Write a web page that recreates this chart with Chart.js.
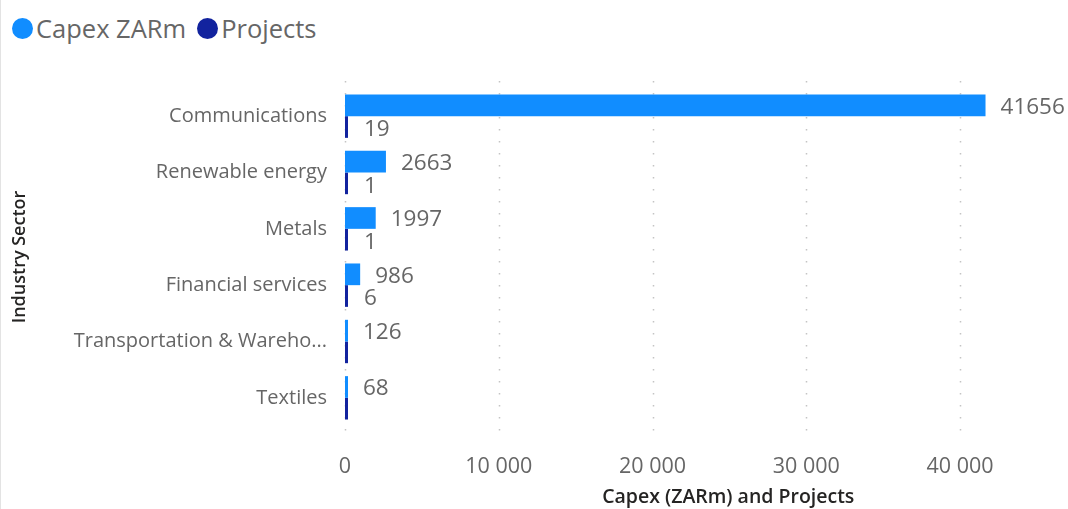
<!DOCTYPE html>
<html>
<head>
<meta charset="utf-8">
<script src="https://cdn.jsdelivr.net/npm/chart.js@4.4.1/dist/chart.umd.min.js"></script>
<style>
  html, body { margin: 0; padding: 0; background: #fff; }
  body { width: 1068px; height: 509px; position: relative; overflow: hidden; border-left: 1px solid #e3e3e3; box-sizing: border-box; }
  #legend { position: absolute; left: 11px; top: 11px; display: flex; align-items: center; font-family: "Segoe UI", "Open Sans", sans-serif; font-size: 25.5px; color: #666; }
  #legend .item { display: flex; align-items: center; margin-right: 11px; }
  #legend .dot { width: 21px; height: 21px; border-radius: 50%; margin-right: 3px; }
  #wrap { position: absolute; left: 0; top: 0; width: 1067px; height: 509px; }
</style>
</head>
<body>
<div id="legend"></div>
<div id="wrap"><canvas id="c"></canvas></div>
<script>
// data
const sectors = ['Communications', 'Renewable energy', 'Metals', 'Financial services', 'Transportation & Wareho...', 'Textiles'];
const capex = [41656, 2663, 1997, 986, 126, 68];
const projects = [19, 1, 1, 6, 1, 1];
const xTicks = [0, 10000, 20000, 30000, 40000];

const seriesNames = ['Capex ZARm', 'Projects'];
const seriesColors = ['#118DFF', '#12239E'];
const labelFont = '22.5px "Segoe UI", "Open Sans", sans-serif';
const xTitle = 'Capex (ZARm) and Projects';

function fmt(v) {
  return String(v).replace(/\B(?=(\d{3})+(?!\d))/g, ' ');
}

// html legend
const legend = document.getElementById('legend');
seriesNames.forEach((n, i) => {
  const it = document.createElement('div');
  it.className = 'item';
  it.innerHTML = '<span class="dot" style="background:' + seriesColors[i] + '"></span><span>' + n + '</span>';
  legend.appendChild(it);
});

// dotted vertical gridlines, a little taller than the plot area like Power BI
const dottedGrid = {
  id: 'dottedGrid',
  beforeDatasetsDraw(chart) {
    const ctx = chart.ctx, xs = chart.scales.x, area = chart.chartArea;
    ctx.save();
    ctx.strokeStyle = '#c4c4c4';
    ctx.lineWidth = 1.5;
    ctx.setLineDash([1.5, 10.5]);
    xTicks.forEach(v => {
      const x = Math.round(xs.getPixelForValue(v)) + 0.5;
      ctx.beginPath();
      ctx.moveTo(x, area.top - 7);
      ctx.lineTo(x, area.bottom + 15);
      ctx.stroke();
    });
    ctx.restore();
  }
};

// value labels, projects label dropped when it collides with the capex one
const valueLabels = {
  id: 'valueLabels',
  afterDatasetsDraw(chart) {
    const ctx = chart.ctx;
    ctx.save();
    ctx.font = labelFont;
    ctx.fillStyle = '#666';
    ctx.textAlign = 'left';
    ctx.textBaseline = 'middle';
    const m0 = chart.getDatasetMeta(0).data;
    const m1 = chart.getDatasetMeta(1).data;
    sectors.forEach((_, i) => {
      const a = m0[i], b = m1[i];
      const ta = String(capex[i]), tb = String(projects[i]);
      const ax = a.x + 15, ay = a.y + 2;
      const bx = b.x + 16, by = b.y + 3;
      ctx.fillText(ta, ax, ay);
      const bw = ctx.measureText(tb).width;
      const overlap = ax < bx + bw - 4 && Math.abs(ay - by) < 26;
      if (!overlap) ctx.fillText(tb, bx, by);
    });
    // x axis title, Power BI puts it a bit right of the plot centre
    const xs = chart.scales.x;
    ctx.font = '600 19.5px "DIN", "Segoe UI", "Open Sans", sans-serif';
    ctx.fillStyle = '#252423';
    ctx.textAlign = 'center';
    ctx.fillText(xTitle, xs.left + (xs.right - xs.left) * 0.536, 497);
    ctx.restore();
  }
};

new Chart(document.getElementById('c'), {
  type: 'bar',
  data: {
    labels: sectors,
    datasets: [
      { label: seriesNames[0], data: capex, backgroundColor: seriesColors[0], minBarLength: 3 },
      { label: seriesNames[1], data: projects, backgroundColor: seriesColors[1], minBarLength: 3 }
    ]
  },
  plugins: [dottedGrid, valueLabels],
  options: {
    indexAxis: 'y',
    responsive: true,
    maintainAspectRatio: false,
    animation: false,
    datasets: { bar: { categoryPercentage: 0.77, barPercentage: 1 } },
    layout: { padding: { top: 88, right: 8, left: 0, bottom: 0 } },
    plugins: { legend: { display: false }, tooltip: { enabled: false } },
    scales: {
      x: {
        min: 0,
        max: 46500,
        afterBuildTicks(s) { s.ticks = xTicks.map(v => ({ value: v })); },
        afterFit(s) { s.height = 83; },
        grid: { display: false, drawTicks: false },
        border: { display: false },
        ticks: { padding: 28, color: '#666', font: { size: 21.5, family: '"Segoe UI", "Open Sans", sans-serif' }, callback: v => fmt(v) },
        title: { display: false }
      },
      y: {
        afterFit(s) { s.width = 344; },
        grid: { display: false, drawTicks: false },
        border: { display: false },
        ticks: { padding: 18, color: '#666', font: { size: 20, family: '"Segoe UI", "Open Sans", sans-serif' } },
        title: { display: true, text: 'Industry Sector', color: '#252423', padding: { top: 8, bottom: 6 }, font: { size: 18, weight: '600', family: '"DIN", "Segoe UI", "Open Sans", sans-serif' } }
      }
    }
  }
});
</script>
</body>
</html>
